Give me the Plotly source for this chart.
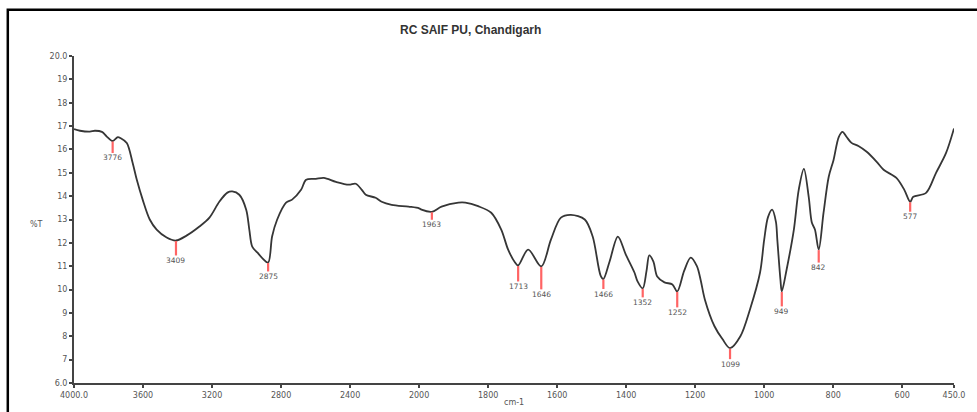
import numpy as np
import plotly.graph_objects as go

# ---------------- data ----------------
wavenumber = [4000, 3965, 3908, 3879, 3838, 3810, 3776, 3746, 3729, 3694, 3660, 3636,
              3602, 3561, 3521, 3463, 3409, 3348, 3273, 3215, 3158, 3111, 3083, 3042,
              3002, 2984, 2967, 2938, 2909, 2875, 2852, 2823, 2771, 2736, 2684, 2655,
              2598, 2552, 2482, 2407, 2367, 2332, 2309, 2252, 2217, 2159, 2061, 2000,
              1993, 1963, 1935, 1886, 1866, 1829, 1791, 1762, 1742, 1722, 1713, 1684,
              1646, 1618, 1589, 1560, 1520, 1497, 1474, 1466, 1448, 1424, 1401, 1376,
              1367, 1352, 1341, 1333, 1321, 1310, 1289, 1266, 1252, 1232, 1213, 1195,
              1184, 1172, 1144, 1121, 1099, 1069, 1041, 1012, 1000, 989, 977, 966,
              962, 953, 949, 935, 914, 900, 885, 871, 862, 853, 842, 828, 813, 799,
              784, 773, 761, 747, 727, 703, 674, 654, 617, 594, 577, 568, 531, 502,
              473, 450]
transmittance = [16.87, 16.80, 16.76, 16.80, 16.75, 16.55, 16.36, 16.53, 16.48, 16.28, 15.42, 14.70,
                 13.85, 13.00, 12.57, 12.23, 12.10, 12.31, 12.70, 13.08, 13.76, 14.15, 14.20, 14.06,
                 13.42, 12.57, 11.84, 11.59, 11.35, 11.16, 12.27, 12.99, 13.72, 13.85, 14.27, 14.70,
                 14.74, 14.78, 14.61, 14.49, 14.53, 14.27, 14.06, 13.93, 13.76, 13.63, 13.55, 13.48,
                 13.42, 13.33, 13.55, 13.72, 13.72, 13.57, 13.29, 12.57, 11.71, 11.16, 11.03, 11.71,
                 10.99, 12.14, 13.08, 13.20, 13.00, 12.27, 10.60, 10.45, 11.20, 12.27, 11.50, 10.73,
                 10.35, 10.05, 10.80, 11.46, 11.20, 10.56, 10.31, 10.22, 9.92, 10.80, 11.37, 11.00,
                 10.40, 9.58, 8.43, 7.88, 7.49, 8.00, 9.16, 10.73, 12.14, 13.10, 13.42, 12.90,
                 12.14, 10.43, 9.92, 10.86, 12.57, 14.27, 15.17, 13.97, 12.87, 12.57, 11.71, 13.29, 14.83, 15.55,
                 16.53, 16.75, 16.53, 16.28, 16.15, 15.90, 15.47, 15.13, 14.78, 14.27, 13.76, 13.97, 14.14, 15.00,
                 15.85, 16.90]

peak_positions = [3776, 3409, 2875, 1963, 1713, 1646, 1466, 1352, 1252, 1099, 949, 842, 577]
peak_values = [16.36, 12.10, 11.16, 13.33, 11.03, 10.99, 10.45, 10.05, 9.92, 7.49, 9.92, 11.71, 13.76]

x_tick_values = [4000, 3600, 3200, 2800, 2400, 2000, 1800, 1600, 1400, 1200, 1000, 800, 600, 450]
x_tick_labels = ["4000.0", "3600", "3200", "2800", "2400", "2000", "1800", "1600",
                 "1400", "1200", "1000", "800", "600", "450.0"]
y_tick_values = [6, 7, 8, 9, 10, 11, 12, 13, 14, 15, 16, 17, 18, 19, 20]
y_tick_labels = ["6.0", "7", "8", "9", "10", "11", "12", "13", "14", "15", "16", "17", "18", "19", "20.0"]

# ---------------- layout / style ----------------
# marker tick lengths (px) below each peak, as drawn in the instrument printout
peak_tick_px = [12, 15, 9, 8, 16, 23, 10, 9, 16, 11, 15, 13, 10]

W, H = 977, 412
M_L, M_R, M_T, M_B = 74, 19, 56, 28
plot_w = W - M_L - M_R
plot_h = H - M_T - M_B
Y_MIN, Y_MAX = 6, 20
px_per_T = plot_h / (Y_MAX - Y_MIN)


def wn_axis(w):
    """FTIR printout scale: 2x expansion below 2000 cm-1."""
    w = np.asarray(w, dtype=float)
    return np.where(w >= 2000, (4000 - w) / 2.0, 1000 + (2000 - w))


X_MAX = float(wn_axis(450))

fig = go.Figure()

fig.add_trace(go.Scatter(
    x=wn_axis(wavenumber), y=transmittance, mode="lines",
    line=dict(color="#363636", width=1.8, shape="spline", smoothing=0.9),
    hoverinfo="skip", showlegend=False))

# red peak marker lines
seg_x, seg_y = [], []
for w, t, L in zip(peak_positions, peak_values, peak_tick_px):
    xx = float(wn_axis(w))
    seg_x += [xx, xx, None]
    seg_y += [t - 0.5 / px_per_T, t - L / px_per_T, None]
fig.add_trace(go.Scatter(x=seg_x, y=seg_y, mode="lines",
                         line=dict(color="#ff6464", width=2.2),
                         hoverinfo="skip", showlegend=False))

for w, t, L in zip(peak_positions, peak_values, peak_tick_px):
    fig.add_annotation(x=float(wn_axis(w)), y=t - (L + 5) / px_per_T,
                       text=str(w), showarrow=False,
                       font=dict(family="DejaVu Sans", size=7.5, color="#555555"),
                       xanchor="center", yanchor="middle")

tick_font = dict(family="DejaVu Sans", size=8, color="#555555")

fig.update_xaxes(range=[0, X_MAX], tickmode="array",
                 tickvals=wn_axis(x_tick_values).tolist(), ticktext=x_tick_labels,
                 showgrid=False, zeroline=False, showline=True, linecolor="#444444",
                 linewidth=2, ticks="outside", ticklen=3, tickwidth=2, tickcolor="#444444",
                 tickfont=tick_font, tickangle=0)
fig.update_yaxes(range=[Y_MIN, Y_MAX], tickmode="array",
                 tickvals=y_tick_values, ticktext=y_tick_labels,
                 showgrid=False, zeroline=False, showline=True, linecolor="#444444",
                 linewidth=2, ticks="outside", ticklen=3, tickwidth=2, tickcolor="#444444",
                 tickfont=tick_font)


def px_x(p):
    return (p - M_L) / plot_w


def px_y(p):
    return (H - M_B - p) / plot_h


fig.add_annotation(x=px_x(472), y=px_y(30), xref="paper", yref="paper",
                   text="<b>RC SAIF PU, Chandigarh</b>", showarrow=False,
                   font=dict(family="Liberation Sans", size=12, color="#333333"),
                   xanchor="center", yanchor="middle")
fig.add_annotation(x=px_x(36), y=px_y(225), xref="paper", yref="paper",
                   text="%T", showarrow=False, font=tick_font,
                   xanchor="center", yanchor="middle")
fig.add_annotation(x=px_x(516), y=px_y(404), xref="paper", yref="paper",
                   text="cm-1", showarrow=False, font=tick_font,
                   xanchor="center", yanchor="middle")

# outer frame of the printout
fig.add_shape(type="rect", xref="paper", yref="paper",
              x0=px_x(7.5), x1=px_x(990), y0=px_y(430), y1=px_y(9.5),
              line=dict(color="#000000", width=2.5), fillcolor="rgba(0,0,0,0)")

fig.update_layout(width=W, height=H,
                  margin=dict(l=M_L, r=M_R, t=M_T, b=M_B, pad=0),
                  plot_bgcolor="white", paper_bgcolor="white",
                  showlegend=False)

fig.write_html("out.html")
